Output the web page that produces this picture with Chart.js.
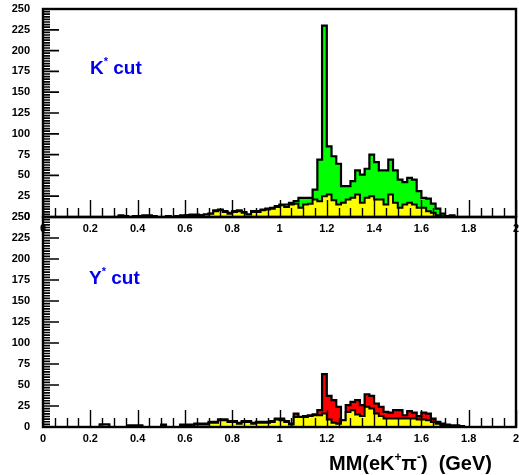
<!DOCTYPE html>
<html>
<head>
<meta charset="utf-8">
<script src="https://cdn.jsdelivr.net/npm/chart.js@4.4.0/dist/chart.umd.min.js"></script>
<style>
  html, body { margin:0; padding:0; background:#fff; }
  #wrap { position:relative; width:519px; height:475px; overflow:hidden; }
  canvas { position:absolute; left:0; top:0; }
  .lbl { position:absolute; font-family:'Liberation Sans', Arial, sans-serif; font-weight:bold; white-space:nowrap; line-height:1; }
  .cut { color:#0000ee; font-size:19px; }
  .cut sup { font-size:11px; vertical-align:9px; }
  .xt { color:#000; font-size:20px; }
  .xt sup { font-size:12px; vertical-align:9px; }
</style>
</head>
<body>
<div id="wrap">
  <canvas id="top" width="519" height="475"></canvas>
  <canvas id="bot" width="519" height="475"></canvas>
  <div class="lbl cut" style="left:90px; top:56px;">K<sup>*</sup> cut</div>
  <div class="lbl cut" style="left:89px; top:266px;">Y<sup>*</sup> cut</div>
  <div class="lbl xt" style="right:27px; top:451px;">MM(eK<sup>+</sup>&pi;<sup>-</sup>)&nbsp;&nbsp;(GeV)</div>
</div>
<script>
// bin low edges (GeV), bin width 0.02
const binLowEdges = [0.20,0.22,0.24,0.26,0.28,0.30,0.32,0.34,0.36,0.38,
  0.40,0.42,0.44,0.46,0.48,0.50,0.52,0.54,0.56,0.58,
  0.60,0.62,0.64,0.66,0.68,0.70,0.72,0.74,0.76,0.78,
  0.80,0.82,0.84,0.86,0.88,0.90,0.92,0.94,0.96,0.98,
  1.00,1.02,1.04,1.06,1.08,1.10,1.12,1.14,1.16,1.18,
  1.20,1.22,1.24,1.26,1.28,1.30,1.32,1.34,1.36,1.38,
  1.40,1.42,1.44,1.46,1.48,1.50,1.52,1.54,1.56,1.58,
  1.60,1.62,1.64,1.66,1.68,1.70,1.72,1.74,1.76,1.78];
const binWidth = 0.02;

// K* cut panel: all events (green) and subset (yellow)
const kstarAll = [0,0,0,0,0,0,2,1,0,1,
  1,2,2,1,0,0,1,0,1,2,
  2,3,3,2,3,4,8,9,7,5,
  7,8,6,3,7,7,9,10,11,13,
  15,15,17,19,23,23,23,33,69,230,
  85,73,64,37,37,43,56,51,58,75,
  66,56,56,69,56,45,42,47,45,31,
  23,22,16,10,4,1,2,0,0,0];
const kstarSub = [0,0,0,0,0,0,1,1,0,0,
  1,1,1,1,0,0,0,0,1,1,
  2,2,2,2,3,4,7,8,6,4,
  6,7,5,3,6,6,8,9,10,12,
  14,12,15,16,11,15,16,21,19,25,
  27,20,15,17,21,23,27,17,23,25,
  21,21,15,27,17,11,15,17,15,11,
  11,7,5,2,1,0,0,0,0,0];

// Y* cut panel: all events (red) and subset (yellow)
const ystarAll = [0,0,3,3,0,0,0,0,2,2,
  2,0,0,0,0,3,0,0,0,3,
  3,3,4,4,4,6,6,9,9,7,
  7,5,7,7,5,6,6,6,7,10,
  10,7,4,16,12,13,14,15,20,63,
  37,32,24,8,26,30,32,26,39,37,
  28,24,18,17,20,20,14,19,17,13,
  17,16,10,6,4,3,2,2,1,0];
const ystarSub = [0,0,3,3,0,0,0,0,1,1,
  1,0,0,0,0,2,0,0,0,2,
  2,2,3,3,3,5,5,8,8,6,
  6,4,6,6,4,5,5,5,6,9,
  8,6,3,12,12,12,13,14,14,16,
  9,5,4,8,18,20,15,13,24,22,
  16,13,10,10,10,10,10,10,10,9,
  9,8,6,4,2,1,1,1,0,0];

const xTickValues = [0,0.2,0.4,0.6,0.8,1,1.2,1.4,1.6,1.8,2];
const yTickValues = [0,25,50,75,100,125,150,175,200,225,250];

function histPoints(vals) {
  const pts = binLowEdges.map((e, i) => ({x: e, y: vals[i]}));
  const last = binLowEdges[binLowEdges.length - 1] + binWidth;
  pts.push({x: last, y: 0});
  return pts;
}

const FONT = "'Liberation Sans', Arial, sans-serif";

const framePlugin = {
  id: 'frameTicks',
  afterDatasetsDraw(chart) {
    const {ctx, chartArea: a, scales: {x, y}} = chart;
    ctx.save();
    ctx.strokeStyle = '#000';
    // x ticks (inward)
    ctx.lineWidth = 1.4;
    ctx.beginPath();
    for (let k = 0; k <= 40; k++) {
      const px = Math.round(x.getPixelForValue(k * 0.05)) + 0.5;
      const len = (k % 4 === 0) ? 17 : 9;
      ctx.moveTo(px, a.bottom);
      ctx.lineTo(px, a.bottom - len);
    }
    ctx.stroke();
    // y ticks (inward, dense comb)
    ctx.lineWidth = 1.7;
    ctx.beginPath();
    for (let k = 0; k <= 80; k++) {
      const py = y.getPixelForValue(k * 3.125);
      const len = (k % 8 === 0) ? 16 : 7;
      ctx.moveTo(a.left, py);
      ctx.lineTo(a.left + len, py);
    }
    ctx.stroke();
    ctx.lineWidth = 2.4;
    ctx.strokeRect(a.left, a.top, a.right - a.left, a.bottom - a.top);
    ctx.restore();
  }
};

function makeChart(id, allVals, subVals, allColor, padTop, areaBottom) {
  const xH = 30;
  return new Chart(document.getElementById(id), {
    type: 'line',
    data: {
      datasets: [
        { data: histPoints(subVals), stepped: 'before', fill: 'origin',
          backgroundColor: '#ffff00', borderColor: '#000', borderWidth: 2,
          pointRadius: 0, order: 0 },
        { data: histPoints(allVals), stepped: 'before', fill: 'origin',
          backgroundColor: allColor, borderColor: '#000', borderWidth: 2.2,
          pointRadius: 0, order: 1 }
      ]
    },
    options: {
      responsive: false, animation: false, events: [],
      layout: { padding: { left: 0, right: 3, top: padTop, bottom: 475 - areaBottom - xH } },
      plugins: { legend: { display: false }, tooltip: { enabled: false } },
      scales: {
        x: {
          type: 'linear', min: 0, max: 2,
          afterBuildTicks: s => { s.ticks = xTickValues.map(v => ({value: v})); },
          afterFit: s => { s.height = xH; s.paddingLeft = 0; s.paddingRight = 0; },
          grid: { display: false, drawTicks: false },
          border: { display: false },
          ticks: { padding: 5, color: '#000', maxRotation: 0, autoSkip: false,
                   font: { family: FONT, weight: 'bold', size: 11 },
                   callback: v => String(+(+v).toFixed(2)) }
        },
        y: {
          min: 0, max: 250,
          afterBuildTicks: s => { s.ticks = yTickValues.map(v => ({value: v})); },
          afterFit: s => { s.width = 43; s.paddingTop = 0; s.paddingBottom = 0; },
          grid: { display: false, drawTicks: false },
          border: { display: false },
          ticks: { padding: 13, color: '#000', autoSkip: false,
                   font: { family: FONT, weight: 'bold', size: 11 } }
        }
      }
    },
    plugins: [framePlugin]
  });
}

makeChart('top', kstarAll, kstarSub, '#00ff00', 9, 217);
makeChart('bot', ystarAll, ystarSub, '#ff0000', 217, 427);
</script>
</body>
</html>
